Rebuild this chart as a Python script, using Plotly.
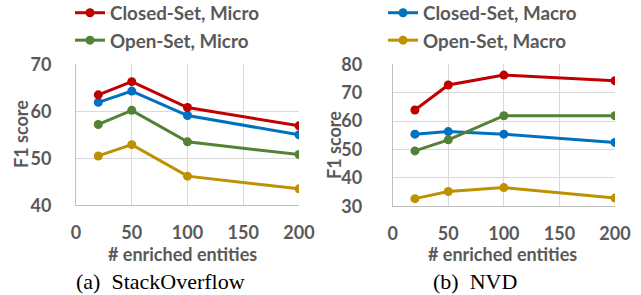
import plotly.graph_objects as go

x_vals = [20, 50, 100, 200]

so_closed_micro = [63.5, 66.3, 60.8, 56.9]
so_closed_macro = [61.9, 64.3, 59.1, 55.0]
so_open_micro = [57.2, 60.2, 53.5, 50.8]
so_open_macro = [50.5, 52.9, 46.2, 43.5]

nvd_closed_micro = [63.9, 72.7, 76.2, 74.2]
nvd_closed_macro = [55.4, 56.3, 55.4, 52.5]
nvd_open_micro = [49.5, 53.4, 61.9, 61.9]
nvd_open_macro = [32.7, 35.2, 36.6, 32.9]

names = ["Closed-Set, Micro", "Open-Set, Micro", "Closed-Set, Macro", "Open-Set, Macro"]
colors = ["#C00000", "#548235", "#0070C0", "#BF9000"]

TXT = "#595959"
FONT = "Lato"
FS = 18.0
FL = 18.8

fig = go.Figure()

so_series = [so_closed_micro, so_open_micro, so_closed_macro, so_open_macro]
nvd_series = [nvd_closed_micro, nvd_open_micro, nvd_closed_macro, nvd_open_macro]
draw_order = [2, 3, 1, 0]  # draw red on top

for i in draw_order:
    legend = "legend" if i < 2 else "legend2"
    fig.add_trace(go.Scatter(
        x=x_vals, y=so_series[i], mode="lines+markers", name=names[i],
        line=dict(color=colors[i], width=3), marker=dict(size=9, color=colors[i]),
        xaxis="x", yaxis="y", legend=legend, legendrank=i, showlegend=True))
for i in draw_order:
    fig.add_trace(go.Scatter(
        x=x_vals, y=nvd_series[i], mode="lines+markers", name=names[i],
        line=dict(color=colors[i], width=3), marker=dict(size=9, color=colors[i]),
        xaxis="x2", yaxis="y2", showlegend=False))

axis_common = dict(
    showgrid=True, gridcolor="#D9D9D9", gridwidth=1,
    showline=True, linecolor="#BFBFBF", linewidth=1, zeroline=False, mirror=False,
    ticks="", automargin=False,
    tickfont=dict(family=FONT, size=FS, color=TXT, weight="bold"),
)

W, H = 641, 295
fig.update_layout(
    width=W, height=H, margin=dict(l=0, r=0, t=0, b=0, autoexpand=False),
    paper_bgcolor="white", plot_bgcolor="white",
    xaxis=dict(domain=[76 / W, 299 / W], range=[0, 200], dtick=50, anchor="y",
               ticklabelstandoff=11, **axis_common),
    yaxis=dict(domain=[89.7 / H, 230.7 / H], range=[40, 70], dtick=10, anchor="x",
               ticklabelstandoff=20, **axis_common),
    xaxis2=dict(domain=[392.7 / W, 615 / W], range=[0, 200], dtick=50, anchor="y2",
                ticklabelstandoff=11, **axis_common),
    yaxis2=dict(domain=[88.7 / H, 230.7 / H], range=[30, 80], dtick=10, anchor="x2",
                ticklabelstandoff=26, **axis_common),
    legend=dict(x=70 / W, y=1 + 6 / H, xanchor="left", yanchor="top",
                font=dict(family=FONT, size=FL, color=TXT, weight="bold"),
                itemwidth=30, tracegroupgap=0, bgcolor="rgba(0,0,0,0)",
                traceorder="normal"),
    legend2=dict(x=383 / W, y=1 + 6 / H, xanchor="left", yanchor="top",
                 font=dict(family=FONT, size=FL, color=TXT, weight="bold"),
                 itemwidth=30, tracegroupgap=0, bgcolor="rgba(0,0,0,0)",
                 traceorder="normal"),
    showlegend=True,
)

title_font = dict(family=FONT, size=FS, color=TXT, weight="bold")
annos = [
    dict(text="F1 score", x=21 / W, y=1 - 134 / H, textangle=-90, font=title_font),
    dict(text="F1 score", x=334 / W, y=1 - 145 / H, textangle=-90, font=title_font),
    dict(text="# enriched entities", x=182 / W, y=1 - 254 / H, font=title_font),
    dict(text="# enriched entities", x=502 / W, y=1 - 254 / H, font=title_font),
    dict(text="(a)  StackOverflow", x=160 / W, y=1 - 281 / H,
         font=dict(family="Liberation Serif", size=22, color="black")),
    dict(text="(b)  NVD", x=475 / W, y=1 - 281 / H,
         font=dict(family="Liberation Serif", size=22, color="black")),
]
for a in annos:
    fig.add_annotation(xref="paper", yref="paper", showarrow=False,
                       xanchor="center", yanchor="middle", **a)

fig.write_html("out.html", config={"displayModeBar": False},
               post_script="document.body.style.margin='0';document.body.style.padding='0';")
